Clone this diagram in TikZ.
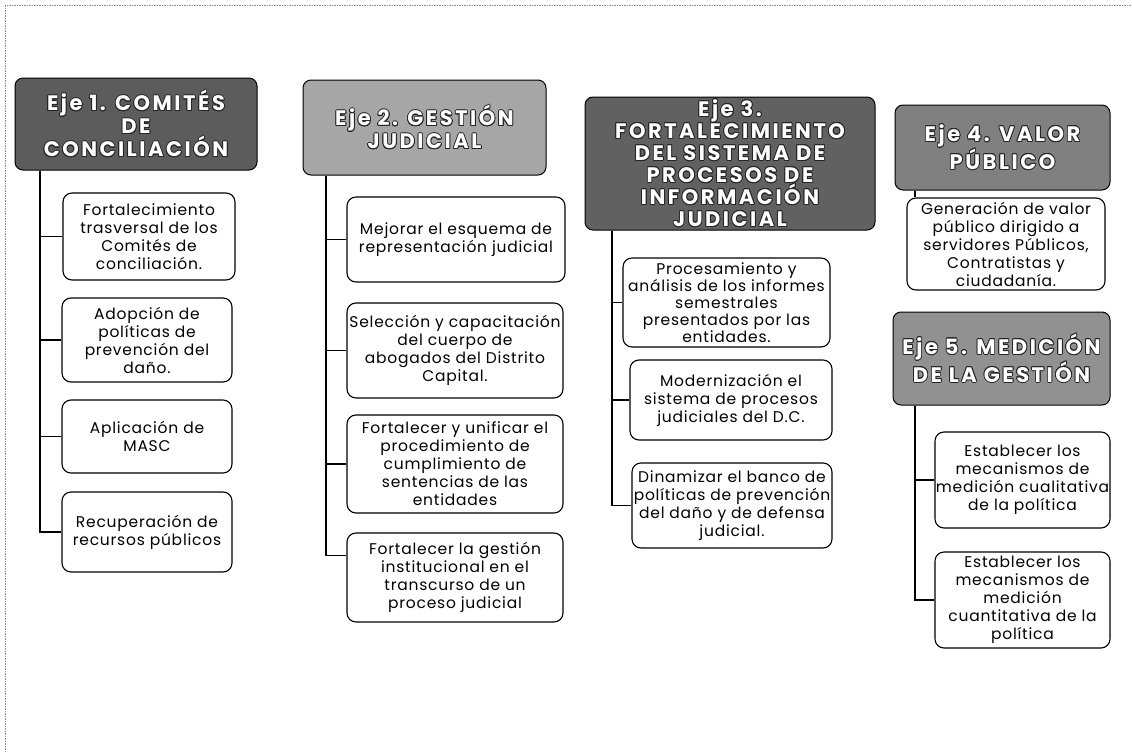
\documentclass[tikz,border=0pt]{standalone}
\usepackage{fontspec}
\usepackage[copies]{contour}
\contourlength{0.8pt}
\contournumber{16}
\setmainfont{Poppins}[LetterSpace=5]
\newfontfamily\hdfont{Poppins}[LetterSpace=12]
\newcommand\hl[1]{\contour{black!85}{#1}}
\begin{document}
\begin{tikzpicture}[x=1pt,y=-1pt,
  hdr/.style={draw=black, line width=1pt, rounded corners=8pt, text=white, align=center, inner sep=0pt,
    font=\hdfont\bfseries\fontsize{21}{23}\selectfont},
  item/.style={draw=black, line width=1.1pt, rounded corners=9pt, fill=white, align=center, inner sep=0pt,
    font=\fontsize{15.5}{18}\selectfont},
  conn/.style={line width=1.2pt},
  framel/.style={black!45, line width=1pt, dash pattern=on 1.5pt off 1pt}]
\useasboundingbox (0,0) rectangle (1132,752);
\fill[white] (0,0) rectangle (1132,752);
\draw[framel] (5,752) -- (5,6) -- (1132,6);

% headers
\node[hdr, fill=black!64, minimum width=242, minimum height=92] (eje1) at (136,124)
  {\hl{Eje 1. COMITÉS}\\\hl{DE}\\\hl{CONCILIACIÓN}};
\node[hdr, fill=black!35, minimum width=243, minimum height=95] (eje2) at (424.5,127.5)
  {\hl{Eje 2. GESTIÓN}\\\hl{JUDICIAL}};
\node[hdr, fill=black!62, minimum width=290, minimum height=133,
  font=\hdfont\bfseries\fontsize{21}{22}\selectfont] (eje3) at (730,163.5)
  {\hl{Eje 3.}\\\hl{FORTALECIMIENTO}\\\hl{DEL SISTEMA DE}\\\hl{PROCESOS DE}\\\hl{INFORMACIÓN}\\\hl{JUDICIAL}};
\node[hdr, fill=black!50, minimum width=215, minimum height=85] (eje4) at (1002.5,147.5)
  {\hl{Eje 4. VALOR}\\\hl{PÚBLICO}};
\node[hdr, fill=black!43, minimum width=217, minimum height=93] (eje5) at (1001.5,358.5)
  {\hl{Eje 5. MEDICIÓN}\\\hl{DE LA GESTIÓN}};

% column 1
\node[item, minimum width=172, minimum height=87] (a1) at (149,236.5)
  {Fortalecimiento\\trasversal de los\\Comités de\\conciliación.};
\node[item, minimum width=170, minimum height=84] (a2) at (147,340)
  {Adopción de\\políticas de\\prevención del\\daño.};
\node[item, minimum width=170, minimum height=73] (a3) at (147,436.5)
  {Aplicación de\\MASC};
\node[item, minimum width=170, minimum height=80] (a4) at (147,532)
  {Recuperación de\\recursos públicos};

% column 2
\node[item, minimum width=218, minimum height=85] (b1) at (456,239.5)
  {Mejorar el esquema de\\representación judicial};
\node[item, minimum width=216, minimum height=95] (b2) at (455,350.5)
  {Selección y capacitación\\del cuerpo de\\abogados del Distrito\\Capital.};
\node[item, minimum width=216, minimum height=98] (b3) at (455,464)
  {Fortalecer y unificar el\\procedimiento de\\cumplimiento de\\sentencias de las\\entidades};
\node[item, minimum width=216, minimum height=89] (b4) at (455,577.5)
  {Fortalecer la gestión\\institucional en el\\transcurso de un\\proceso judicial};

% column 3
\node[item, minimum width=207, minimum height=89, font=\fontsize{15.5}{17}\selectfont] (c1) at (726.5,302.5)
  {Procesamiento y\\análisis de los informes\\semestrales\\presentados por las\\entidades.};
\node[item, minimum width=202, minimum height=80] (c2) at (731,400)
  {Modernización el\\sistema de procesos\\judiciales del D.C.};
\node[item, minimum width=200, minimum height=85] (c3) at (732,505.5)
  {Dinamizar el banco de\\políticas de prevención\\del daño y de defensa\\judicial.};

% column 4
\node[item, minimum width=198, minimum height=92] (d1) at (1006,244)
  {Generación de valor\\público dirigido a\\servidores Públicos,\\Contratistas y\\ciudadanía.};
\node[item, minimum width=175, minimum height=96] (e1) at (1022.5,480)
  {Establecer los\\mecanismos de\\medición cualitativa\\de la política};
\node[item, minimum width=175, minimum height=96] (e2) at (1022.5,600)
  {Establecer los\\mecanismos de\\medición\\cuantitativa de la\\política};

% connectors
\coordinate (t1) at (40,0);
\coordinate (t2) at (326,0);
\coordinate (t3) at (612,0);
\coordinate (t4) at (915,0);
\coordinate (t5) at (915,0);
\draw[conn] (eje1.south -| t1) |- (a4.west);
\foreach \n in {a1,a2,a3} \draw[conn] (\n.west) -- (\n.west -| t1);
\draw[conn] (eje2.south -| t2) |- ([yshift=22pt]b4.west);
\foreach \n in {b1,b2,b3} \draw[conn] (\n.west) -- (\n.west -| t2);
\draw[conn] (eje3.south -| t3) |- (c3.west);
\foreach \n in {c1,c2} \draw[conn] (\n.west) -- (\n.west -| t3);
\draw[conn] (eje4.south -| t4) -- (d1.north -| t4);
\draw[conn] (eje5.south -| t5) |- (e2.west);
\draw[conn] (e1.west) -- (e1.west -| t5);
\end{tikzpicture}
\end{document}
